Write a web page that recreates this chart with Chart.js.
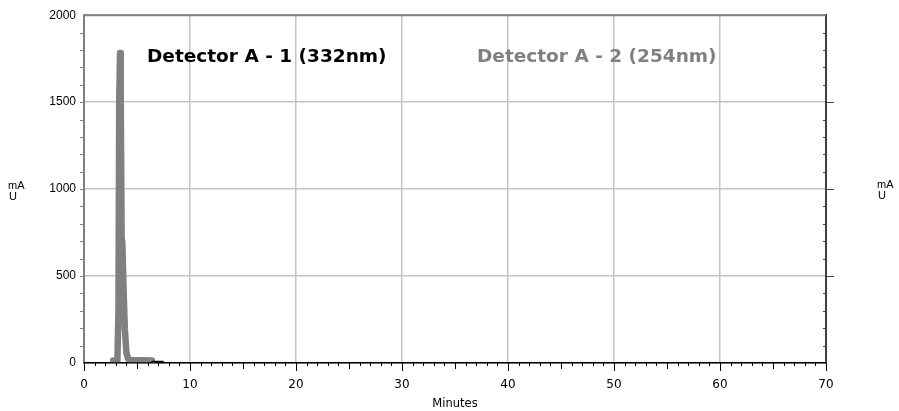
<!DOCTYPE html>
<html>
<head>
<meta charset="utf-8">
<title>Detector A</title>
<script src="https://cdn.jsdelivr.net/npm/chart.js@4.4.1/dist/chart.umd.min.js"></script>
<style>
  html, body { margin: 0; padding: 0; background: #fff; }
  #wrap { width: 899px; height: 411px; }
</style>
</head>
<body>
<div id="wrap"><canvas id="cromatograma" width="899" height="411"></canvas></div>
<script>
// Detector A - 1 (332nm): tiempo en minutos y señal en mAU
const tiempoA1 = [0, 6.3, 6.5, 7.4, 7.6, 70]
const senalA1 = [0, 0, 8, 8, 0, 0]

// Detector A - 2 (254nm)
const tiempoA2 = [2.75, 3.15, 3.25, 3.32, 3.4, 3.47, 3.55, 3.62, 3.72, 3.85, 4.0, 4.15, 4.4, 5.5, 6.4]
const senalA2 = [15, 15, 300, 1500, 1782, 1500, 720, 690, 450, 200, 60, 25, 17, 16, 15]

const etiquetas = ['Detector A - 1 (332nm)', 'Detector A - 2 (254nm)']
const ticksX = [0, 10, 20, 30, 40, 50, 60, 70]
const ticksY = [0, 500, 1000, 1500, 2000]

const puntos = (xs, ys) => xs.map((t, i) => ({ x: t, y: ys[i] }))

// marcas menores, borde superior, unidades y leyenda dentro del gráfico
const extras = {
    id: 'extras',
    afterDraw(chart) {
        const { ctx, chartArea: a, scales: { x, y } } = chart
        ctx.save()
        ctx.lineWidth = 1

        ctx.strokeStyle = '#000'
        for (let t = 0; t <= 70; t++) {
            const px = Math.round(x.getPixelForValue(t)) + 0.5
            const largo = t % 10 === 0 ? 8 : (t % 5 === 0 ? 6 : 3)
            ctx.beginPath()
            ctx.moveTo(px, a.bottom)
            ctx.lineTo(px, a.bottom + largo)
            ctx.stroke()
        }

        for (let v = 100; v < 2000; v += 100) {
            const py = Math.round(y.getPixelForValue(v)) + 0.5
            ctx.strokeStyle = '#808080'
            ctx.beginPath()
            ctx.moveTo(a.left - 4, py)
            ctx.lineTo(a.left, py)
            ctx.stroke()
            ctx.strokeStyle = '#404040'
            ctx.beginPath()
            if (v % 500 === 0) {
                ctx.moveTo(a.right, py)
                ctx.lineTo(a.right + 8, py)
            } else {
                ctx.moveTo(a.right - 3, py)
                ctx.lineTo(a.right, py)
            }
            ctx.stroke()
        }

        ctx.strokeStyle = '#808080'
        ctx.lineWidth = 2
        ctx.beginPath()
        ctx.moveTo(a.left, a.top)
        ctx.lineTo(a.right, a.top)
        ctx.stroke()

        ctx.fillStyle = '#000'
        ctx.font = '11px "Liberation Sans"'
        ctx.fillText('mA', 8, 189)
        ctx.fillText('U', 9, 200)
        ctx.fillText('mA', 877, 188)
        ctx.fillText('U', 878, 199)

        const posX = [147, 477]
        ctx.font = 'bold 18.5px "DejaVu Sans"'
        chart.data.datasets.forEach((d, i) => {
            ctx.fillStyle = d.borderColor
            ctx.fillText(d.label, posX[i], 62)
        })
        ctx.restore()
    }
}

new Chart('cromatograma', {
    type: 'line',
    data: {
        datasets: [{
            label: etiquetas[0],
            data: puntos(tiempoA1, senalA1),
            borderColor: '#000000',
            borderWidth: 1.5,
            pointRadius: 0,
            tension: 0
        }, {
            label: etiquetas[1],
            data: puntos(tiempoA2, senalA2),
            borderColor: '#808080',
            borderWidth: 6.5,
            borderJoinStyle: 'round',
            borderCapStyle: 'round',
            pointRadius: 0,
            tension: 0
        }]
    },
    plugins: [extras],
    options: {
        responsive: false,
        animation: false,
        devicePixelRatio: 1,
        layout: { padding: { top: 15, left: 0, right: 0, bottom: 0 } },
        plugins: {
            legend: { display: false },
            tooltip: { enabled: false }
        },
        scales: {
            x: {
                type: 'linear',
                min: 0,
                max: 70,
                afterBuildTicks: (s) => { s.ticks = ticksX.map((v) => ({ value: v })) },
                afterFit: (s) => { s.height = 48 },
                ticks: {
                    padding: 15,
                    color: '#000',
                    font: { family: 'DejaVu Sans', size: 12 },
                    maxRotation: 0,
                    callback: (v) => String(v)
                },
                grid: { color: '#c4c4c4', lineWidth: 1.5, drawTicks: false },
                border: { color: '#000', width: 1.5 },
                title: {
                    display: true,
                    text: 'Minutes',
                    color: '#000',
                    font: { family: 'DejaVu Sans', size: 11.5 },
                    padding: { top: 0, bottom: 0 }
                }
            },
            y: {
                type: 'linear',
                position: 'left',
                min: 0,
                max: 2000,
                afterBuildTicks: (s) => { s.ticks = ticksY.map((v) => ({ value: v })) },
                afterFit: (s) => { s.width = 84 },
                ticks: {
                    padding: 8,
                    color: '#000',
                    font: { family: 'Liberation Sans', size: 12 },
                    callback: (v) => String(v)
                },
                grid: { color: '#c4c4c4', lineWidth: 1.5, drawTicks: false },
                border: { color: '#808080', width: 2 }
            },
            y2: {
                type: 'linear',
                position: 'right',
                min: 0,
                max: 2000,
                afterFit: (s) => { s.width = 73 },
                ticks: { display: false },
                grid: { drawOnChartArea: false, drawTicks: false },
                border: { color: '#404040', width: 2 }
            }
        }
    }
})
</script>
</body>
</html>
